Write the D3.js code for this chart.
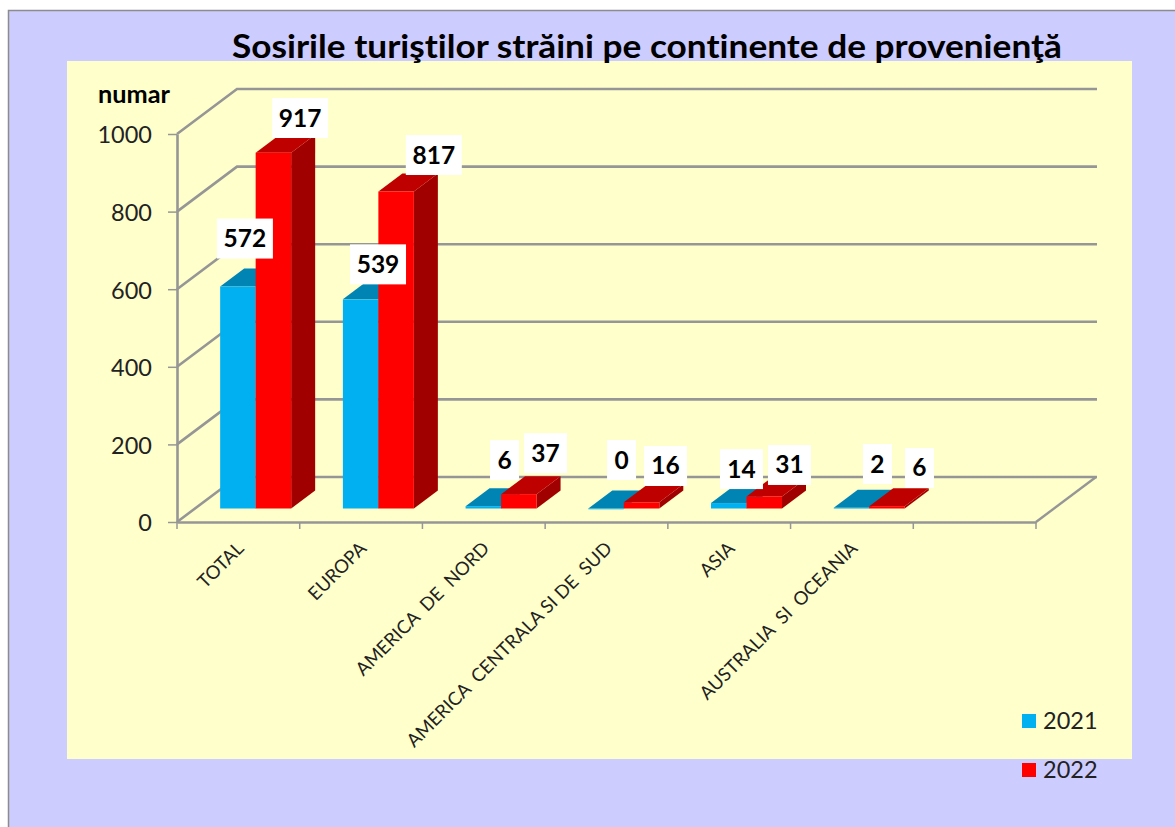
<!DOCTYPE html>
<html><head><meta charset="utf-8">
<script src="https://cdnjs.cloudflare.com/ajax/libs/d3/7.8.5/d3.min.js"></script>
<style>html,body{margin:0;padding:0;background:#fff}svg{display:block}text{font-family:Lato,"Open Sans",sans-serif;font-variant-ligatures:none}</style>
</head><body><svg id="c" width="1175" height="827"></svg>
<script>
const categories = ["TOTAL","EUROPA","AMERICA  DE  NORD","AMERICA  CENTRALA SI DE  SUD","ASIA","AUSTRALIA  SI  OCEANIA"];
const seriesNames = ["2021","2022"];
const values2021 = [572,539,6,0,14,2];
const values2022 = [917,817,37,16,31,6];
const yTicks = [0,200,400,600,800,1000];

// layout
const W=1175,H=827;
const plot={x0:177,x1:1036,y0:522,y1:134,dx:60,dy:45};
const barDepth={dx:24,dy:18};
const colors={
  "2021":{front:"#00B0F0",top:"#0084B4",side:"#00688E"},
  "2022":{front:"#FF0000",top:"#BF0000",side:"#A00000"}
};
// data-label nudges relative to the bar's top-front centre: [dx, dy]
const labelNudge={
  "2021":[[7,-48],[17.4,-35],[21.2,-46],[15.5,-48.5],[12.7,-34],[26,-43.7]],
  "2022":[[26.7,-34.7],[37.7,-36.5],[26.7,-41],[24,-36.3],[25.2,-31.5],[32.5,-38.2]]
};

const svg=d3.select("#c");
svg.append("rect").attr("x",8.5).attr("y",10.5).attr("width",W).attr("height",H).attr("fill","#CCCCFF").attr("stroke","#8c8c8c").attr("stroke-width",1.5);
svg.append("rect").attr("x",67).attr("y",61).attr("width",1065).attr("height",698).attr("fill","#FFFFCC");

svg.append("text").attr("x",232).attr("y",58).attr("font-size",32.5).attr("font-weight",700).attr("fill","#000").attr("textLength",830).attr("lengthAdjust","spacingAndGlyphs")
  .text("Sosirile turiştilor străini pe continente de provenienţă");
svg.append("text").attr("x",98).attr("y",103).attr("font-size",25).attr("font-weight",700).attr("fill","#000").attr("textLength",72).attr("lengthAdjust","spacingAndGlyphs").text("numar");

const x=d3.scaleBand().domain([...categories,""]).range([plot.x0,plot.x1]);
const y=d3.scaleLinear().domain([0,1000]).range([plot.y0,plot.y1]);
const xInner=d3.scaleBand().domain(seriesNames).range([0,71]);
const bw=xInner.bandwidth();
const shiftX=(plot.dx-barDepth.dx)/2-0.7, shiftY=(plot.dy-barDepth.dy)/2;
const grey="#969696";

// walls
const walls=svg.append("g").attr("fill","none").attr("stroke",grey).attr("stroke-width",2.6);
yTicks.forEach(t=>{
  walls.append("path").attr("d",`M${plot.x0},${y(t)}L${plot.x0+plot.dx},${y(t)-plot.dy}H${plot.x1+plot.dx+1}`);
});
walls.append("path").attr("d",`M${plot.x1},${plot.y0}L${plot.x1+plot.dx},${plot.y0-plot.dy}`).attr("stroke-width",2.4);

// axes
const yAxis=svg.append("g").attr("transform",`translate(${plot.x0},0)`)
  .call(d3.axisLeft(y).tickValues(yTicks).tickFormat(d3.format("d")).tickSizeInner(9).tickSizeOuter(0).tickPadding(16));
yAxis.select(".domain").attr("stroke",grey).attr("stroke-width",2.6);
yAxis.selectAll(".tick line").attr("stroke",grey).attr("stroke-width",1.5);
yAxis.selectAll("text").attr("font-size",23.5).attr("fill","#222").attr("font-family","Lato").attr("dy","0.38em");

const xAxis=svg.append("g").attr("transform",`translate(0,${plot.y0})`)
  .call(d3.axisBottom(x).tickFormat("").tickSize(0));
xAxis.select(".domain").attr("stroke",grey).attr("stroke-width",2.6);
xAxis.selectAll(".tick").remove();
svg.append("g").selectAll("line").data(d3.range(0,8)).join("line")
  .attr("x1",i=>plot.x0+i*x.step()).attr("x2",i=>plot.x0+i*x.step())
  .attr("y1",plot.y0).attr("y2",plot.y0+7).attr("stroke",grey).attr("stroke-width",1.5);

// bars
const rows=categories.flatMap((c,i)=>[
  {c,i,s:"2021",v:values2021[i]},
  {c,i,s:"2022",v:values2022[i]}
]);
const bars=svg.append("g");
rows.forEach(d=>{
  const bx=x(d.c)+(x.step()-71)/2+xInner(d.s)+shiftX;
  const base=plot.y0-shiftY;
  const top=base-(plot.y0-y(d.v));
  const col=colors[d.s];
  const g=bars.append("g");
  g.append("path").attr("fill",col.side).attr("d",`M${bx+bw},${top}l${barDepth.dx},${-barDepth.dy}V${base-barDepth.dy}L${bx+bw},${base}Z`);
  g.append("path").attr("fill",col.top).attr("d",`M${bx},${top}l${barDepth.dx},${-barDepth.dy}h${bw}l${-barDepth.dx},${barDepth.dy}Z`);
  g.append("rect").attr("x",bx).attr("y",top).attr("width",bw).attr("height",Math.max(base-top,0.8)).attr("fill",col.front);
  d.cx=bx+bw/2; d.top=top;
});

// data labels
const lab=svg.append("g");
rows.forEach(d=>{
  const n=labelNudge[d.s][d.i];
  const cx=d.cx+n[0], cy=d.top+n[1];
  const w=String(d.v).length===3?56:(String(d.v).length===2?43:29);
  lab.append("rect").attr("x",cx-w/2).attr("y",cy-20).attr("width",w).attr("height",40).attr("fill","#fff");
});
rows.forEach(d=>{
  const n=labelNudge[d.s][d.i];
  lab.append("text").attr("x",d.cx+n[0]).attr("y",d.top+n[1]+8.5).attr("text-anchor","middle").attr("font-size",24.5).attr("font-weight",700).attr("fill","#000").text(d.v);
});

// category labels
svg.append("g").selectAll("text").data(categories).join("text")
  .attr("text-anchor","end").attr("font-size",18.5).attr("fill","#222")
  .attr("transform",d=>`translate(${x(d)+x.bandwidth()/2+2},${plot.y0+23}) rotate(-45)`)
  .attr("dy","0.35em").style("white-space","pre").text(d=>d);

// legend
const leg=svg.append("g").selectAll("g").data(seriesNames).join("g")
  .attr("transform",(d,i)=>`translate(1022,${714+i*49})`);
leg.append("rect").attr("width",14).attr("height",14).attr("fill",d=>colors[d].front);
leg.append("text").attr("x",21).attr("y",14.5).attr("font-size",23.5).attr("fill","#222").text(d=>d);
</script></body></html>
